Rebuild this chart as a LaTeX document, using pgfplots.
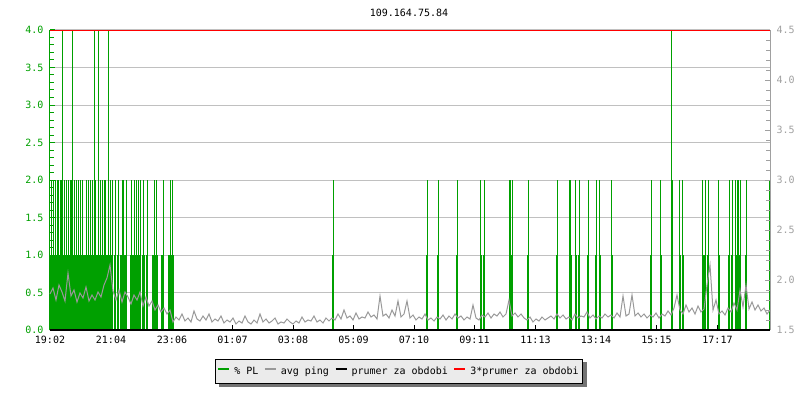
\documentclass[border=0pt]{standalone}
\usepackage{pgfplots}
\pgfplotsset{compat=1.18}
\usepackage{fontspec}
\setmainfont{DejaVu Sans Mono}
\usetikzlibrary{backgrounds}
\definecolor{plgreen}{RGB}{0,160,0}
\definecolor{pinggray}{RGB}{153,153,153}
\definecolor{labgray}{RGB}{160,160,160}
\definecolor{gridgray}{RGB}{192,192,192}
\definecolor{legfill}{RGB}{235,235,235}
\begin{document}
\fontsize{10}{12}\selectfont
\begin{tikzpicture}
\useasboundingbox (0,0) rectangle (800pt,400pt);
\node[font=\fontsize{10}{12}\selectfont] at (409pt,387pt) {109.164.75.84};
\begin{axis}[
  at={(50pt,70pt)}, anchor=south west,
  scale only axis, width=720pt, height=300pt,
  xmin=0, xmax=1440, ymin=0, ymax=4,
  axis x line*=bottom, axis y line*=left,
  x axis line style={black, line width=1pt, -},
  y axis line style={plgreen, line width=1pt, -},
  tick align=inside, major tick length=5pt, minor tick length=4pt,
  xtick={0,122,244,365,486,607,728,849,971,1092,1213,1335},
  xticklabels={19:02,21:04,23:06,01:07,03:08,05:09,07:10,09:11,11:13,13:14,15:15,17:17},
  xtick style={black, line width=1pt},
  xticklabel style={yshift=-3pt},
  ytick={0,0.5,...,4}, minor y tick num=4,
  ytick style={plgreen, line width=1pt},
  minor y tick style={plgreen, line width=1pt},
  yticklabel style={xshift=-3pt, text=plgreen, /pgf/number format/fixed, /pgf/number format/fixed zerofill, /pgf/number format/precision=1},
  /pgf/number format/assume math mode=true,
  tick label style={font=\fontsize{10}{12}\selectfont},
  ymajorgrids, grid style={gridgray, line width=1pt},
]
\addplot[ycomb, plgreen, line width=1pt, mark=none] coordinates {
(24,4)(44,4)(88,4)(96,4)(116,4)(1243.4,4)(1245,2)
(4,2)(8,2)(12,2)(16,2)(20,2)(22,2)(28,2)(32,2)(36,2)(40,2)(42,2)(48,2)(52,2)(56,2)(60,2)(64,2)
(72,2)(76,2)(80,2)(84,2)(90,2)(100,2)(104,2)(108,2)(110,2)(120,2)(124,2)(130,2)(136,2)(144,2)
(146,2)(152,2)(162,2)(168,2)(172,2)(176,2)(180,2)(186,2)(194,2)(208,2)(212,2)(226,2)(240,2)(245.4,2)
(566.6,2)(754,2)(776,2)(814.6,2)(861.4,2)(868.6,2)(919,2)(921,2)(924.6,2)(956.6,2)(1014.6,2)
(1039,2)(1041,2)(1051.4,2)(1058.6,2)(1076.6,2)(1092.6,2)(1099.4,2)(1123.4,2)(1202.6,2)(1221.4,2)
(1259.4,2)(1265.4,2)(1305.4,2)(1310.6,2)(1316.6,2)(1337.4,2)(1358.6,2)(1364,2)(1371.4,2)
(1375.4,2)(1377.4,2)(1380,2)(1392.6,2)(1439,2)
};
\addplot[ycomb, plgreen, line width=2pt, mark=none] coordinates {
(24,1)(44,1)(88,1)(96,1)(116,1)(1243.4,1)
(4,1)(8,1)(12,1)(16,1)(20,1)(22,1)(28,1)(32,1)(36,1)(40,1)(42,1)(48,1)(52,1)(56,1)(60,1)(64,1)
(72,1)(76,1)(80,1)(84,1)(90,1)(100,1)(104,1)(108,1)(110,1)(120,1)(124,1)(130,1)(136,1)(144,1)
(146,1)(152,1)(162,1)(168,1)(172,1)(176,1)(180,1)(186,1)(194,1)(208,1)(212,1)(226,1)(240,1)(245.4,1)
(2,1)(6,1)(10,1)(14,1)(18,1)(26,1)(30,1)(34,1)(38,1)(46,1)(50,1)(54,1)(58,1)(62,1)(68,1)(78,1)
(82,1)(86,1)(92,1)(94,1)(98,1)(102,1)(106,1)(112,1)(114,1)(118,1)(122,1)(142,1)(150,1)(164,1)
(166,1)(170,1)(174,1)(178,1)(188,1)(206,1)(210,1)(214,1)(224,1)(238,1)(242,1)
(566.6,1)(754,1)(776,1)(814.6,1)(861.4,1)(868.6,1)(919,1)(921,1)(924.6,1)(956.6,1)(1014.6,1)
(1039,1)(1041,1)(1051.4,1)(1058.6,1)(1076.6,1)(1092.6,1)(1099.4,1)(1123.4,1)(1202.6,1)(1221.4,1)
(1259.4,1)(1265.4,1)(1305.4,1)(1310.6,1)(1316.6,1)(1337.4,1)(1358.6,1)(1364,1)(1371.4,1)
(1375.4,1)(1377.4,1)(1380,1)(1392.6,1)(1439,1)
};
\end{axis}
\begin{axis}[
  at={(50pt,70pt)}, anchor=south west,
  scale only axis, width=720pt, height=300pt,
  xmin=0, xmax=1440, ymin=1.5, ymax=4.5,
  axis y line*=right, axis x line=none, clip=false,
  y axis line style={labgray, line width=1pt, -},
  tick align=inside, major tick length=5pt, minor tick length=4pt,
  ytick={1.5,2,...,4.5}, minor y tick num=4,
  ytick style={labgray, line width=1pt},
  minor y tick style={labgray, line width=1pt},
  yticklabel style={xshift=3pt, text=labgray, /pgf/number format/fixed, /pgf/number format/fixed zerofill, /pgf/number format/precision=1},
  /pgf/number format/assume math mode=true,
  tick label style={font=\fontsize{10}{12}\selectfont},
  legend columns=-1,
  legend image code/.code={\draw[#1, line width=2pt] (0pt,3pt) -- (11pt,3pt);},
  legend style={name=leg, at={(0.4847,-0.0967)}, anchor=north, draw=black, line width=1pt, fill=legfill,
    font=\fontsize{10}{12}\selectfont, inner xsep=2pt, inner ysep=5.5pt,
    /tikz/every even column/.append style={column sep=3.5pt},
    /tikz/every odd column/.append style={column sep=2pt}},
]
\addlegendimage{plgreen}
\addlegendentry{\% PL}
\addplot[pinggray, line width=1pt, mark=none] coordinates {
(0,1.86)(6,1.92)(12,1.80)(18,1.95)(24,1.88)(30,1.79)(36,2.07)(42,1.84)(48,1.90)(54,1.78)
(60,1.87)(66,1.82)(72,1.93)(78,1.79)(84,1.85)(90,1.80)(96,1.88)(102,1.83)(108,1.95)(114,2.02)
(120,2.15)(126,1.89)(132,1.80)(138,1.90)(144,1.78)(150,1.88)(156,1.83)(162,1.76)(168,1.85)(174,1.80)
(180,1.88)(186,1.74)(192,1.83)(198,1.74)(204,1.79)(210,1.70)(216,1.75)(222,1.68)(228,1.72)(234,1.66)
(240,1.70)(246,1.58)(252,1.63)(258,1.60)(264,1.66)(270,1.59)(276,1.62)(282,1.58)(288,1.69)(294,1.61)
(300,1.59)(306,1.64)(312,1.60)(318,1.66)(324,1.58)(330,1.61)(336,1.59)(342,1.64)(348,1.57)(354,1.60)
(360,1.58)(366,1.62)(372,1.56)(378,1.59)(384,1.57)(390,1.64)(396,1.58)(402,1.56)(408,1.60)(414,1.57)
(420,1.66)(426,1.58)(432,1.61)(438,1.57)(444,1.59)(450,1.62)(456,1.56)(462,1.58)(468,1.57)(474,1.61)
(480,1.58)(486,1.56)(492,1.59)(498,1.57)(504,1.63)(510,1.58)(516,1.60)(522,1.59)(528,1.64)(534,1.58)
(540,1.60)(546,1.57)(552,1.62)(558,1.59)(564,1.62)(570,1.60)(576,1.66)(582,1.61)(588,1.70)(594,1.62)
(600,1.64)(606,1.60)(612,1.67)(618,1.61)(624,1.63)(630,1.62)(636,1.68)(642,1.63)(648,1.65)(654,1.61)
(660,1.84)(666,1.64)(672,1.66)(678,1.62)(684,1.70)(690,1.64)(696,1.79)(702,1.63)(708,1.66)(714,1.79)
(720,1.62)(726,1.65)(732,1.60)(738,1.63)(744,1.61)(750,1.66)(756,1.60)(762,1.62)(768,1.59)(774,1.63)
(780,1.61)(786,1.65)(792,1.60)(798,1.64)(804,1.61)(810,1.66)(816,1.62)(822,1.64)(828,1.60)(834,1.63)
(840,1.61)(846,1.75)(852,1.62)(858,1.60)(864,1.65)(870,1.63)(876,1.67)(882,1.62)(888,1.66)(894,1.64)
(900,1.68)(906,1.63)(912,1.66)(918,1.80)(924,1.64)(930,1.67)(936,1.63)(942,1.66)(948,1.62)(954,1.60)
(960,1.63)(966,1.58)(972,1.61)(978,1.59)(984,1.63)(990,1.60)(996,1.62)(1002,1.64)(1008,1.61)(1014,1.66)
(1020,1.62)(1026,1.65)(1032,1.61)(1038,1.63)(1044,1.60)(1050,1.66)(1056,1.62)(1062,1.64)(1068,1.63)(1074,1.68)
(1080,1.62)(1086,1.65)(1092,1.61)(1098,1.64)(1104,1.62)(1110,1.66)(1116,1.63)(1122,1.65)(1128,1.62)(1134,1.67)
(1140,1.63)(1146,1.84)(1152,1.64)(1158,1.66)(1164,1.85)(1170,1.64)(1176,1.67)(1182,1.63)(1188,1.66)(1194,1.62)
(1200,1.65)(1206,1.63)(1212,1.67)(1218,1.62)(1224,1.66)(1230,1.64)(1236,1.69)(1242,1.65)(1248,1.72)(1254,1.85)
(1260,1.70)(1266,1.66)(1272,1.75)(1278,1.68)(1284,1.72)(1290,1.66)(1296,1.74)(1302,1.68)(1308,1.71)(1314,1.95)
(1320,2.15)(1326,1.70)(1332,1.80)(1338,1.66)(1344,1.69)(1350,1.65)(1356,1.72)(1362,1.68)(1368,1.77)(1374,1.70)
(1380,1.90)(1386,1.73)(1392,1.95)(1398,1.71)(1404,1.78)(1410,1.70)(1416,1.75)(1422,1.69)(1428,1.72)(1434,1.66)
(1440,1.70)
};
\addlegendentry{avg ping}
\addplot[black, line width=2pt, mark=none] coordinates {(0,1.5)(1440,1.5)};
\addlegendentry{prumer za obdobi}
\addplot[red, line width=1pt, mark=none] coordinates {(0,4.5)(1440,4.5)};
\addlegendentry{3*prumer za obdobi}
\end{axis}
\begin{pgfonlayer}{background}
\fill[black!55] ([shift={(4pt,-3pt)}]leg.south west) rectangle ([shift={(4pt,-3pt)}]leg.north east);
\end{pgfonlayer}
\end{tikzpicture}
\end{document}
